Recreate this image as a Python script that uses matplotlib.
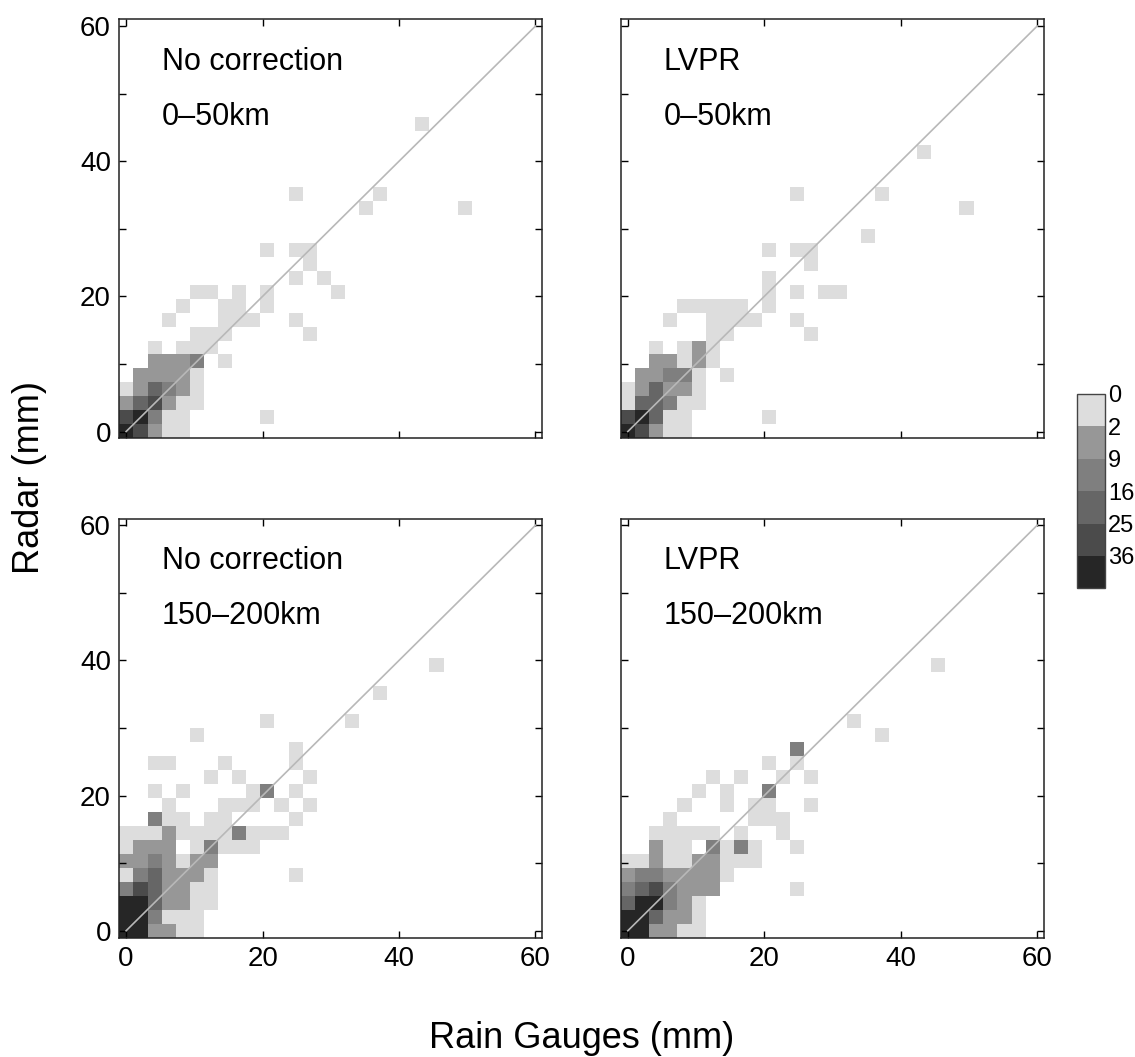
import matplotlib
matplotlib.use('Agg')
import matplotlib.pyplot as plt
import numpy as np
from matplotlib.colors import ListedColormap, BoundaryNorm

plt.rcParams['font.family'] = ['Liberation Sans', 'DejaVu Sans']

# 30x30 bins over -1..61 mm; each digit is the colour class of one bin
# (0 = empty, 1..6 = the colorbar classes), rows listed from top to bottom
grid_nocorr_near = [
    "0000000000000000000001000",  # row 22
    "0000000000000000000000000",
    "0000000000000000000000000",
    "0000000000000000000000000",
    "0000000000000000000000000",
    "0000000000001000001000000",
    "0000000000000000010000001",
    "0000000000000000000000000",
    "0000000000000000000000000",
    "0000000000101100000000000",
    "0000000000000100000000000",
    "0000000000001010000000000",
    "0000011010100001000000000",
    "0000100110100000000000000",
    "0001000111001000000000000",
    "0000011100000100000000000",
    "0010111000000000000000000",
    "0022230100000000000000000",
    "0222210000000000000000000",
    "1243210000000000000000000",
    "2452110000000000000000000",
    "5631100000100000000000000",
    "6521100000000000000000000",  # row 0
]

grid_lvpr_near = [
    "0000000000000000000000000",  # row 22
    "0000000000000000000000000",
    "0000000000000000000001000",
    "0000000000000000000000000",
    "0000000000000000000000000",
    "0000000000001000001000000",
    "0000000000000000000000001",
    "0000000000000000000000000",
    "0000000000000000010000000",
    "0000000000101100000000000",
    "0000000000000100000000000",
    "0000000000100000000000000",
    "0000000000101011000000000",
    "0000111110100000000000000",
    "0001001111001000000000000",
    "0000001100000100000000000",
    "0010121000000000000000000",
    "0022121000000000000000000",
    "0223310100000000000000000",
    "1242210000000000000000000",
    "1443110000000000000000000",
    "5641100000100000000000000",
    "6521100000000000000000000",  # row 0
]

grid_nocorr_far = [
    "0000000000000000000000000",  # row 22
    "0000000000000000000000000",
    "0000000000000000000000000",
    "0000000000000000000000100",
    "0000000000000000000000000",
    "0000000000000000001000000",
    "0000000000000000000000000",
    "0000000000100000100000000",
    "0000010000000000000000000",
    "0000000000001000000000000",
    "0011000100001000000000000",
    "0000001010000100000000000",
    "0010100001301000000000000",
    "0001000111010100000000000",
    "0031101100001000000000000",
    "1112111131110000000000000",
    "1222013111000000000000000",
    "2232122000000000000000000",
    "1342221000001000000000000",
    "3542211000000000000000000",
    "6642211000000000000000000",
    "6631110000000000000000000",
    "6622110000000000000000000",  # row 0
]

grid_lvpr_far = [
    "0000000000000000000000000",  # row 22
    "0000000000000000000000000",
    "0000000000000000000000000",
    "0000000000000000000000100",
    "0000000000000000000000000",
    "0000000000000000000000000",
    "0000000000000000000000000",
    "0000000000000000100000000",
    "0000000000000000001000000",
    "0000000000003000000000000",
    "0000000000101000000000000",
    "0000001010010100000000000",
    "0000010100300000000000000",
    "0000100101100100000000000",
    "0001000001110000000000000",
    "0011111010010000000000000",
    "0021103131001000000000000",
    "1121122111000000000000000",
    "2332222100000000000000000",
    "3453222000001000000000000",
    "4663210000000000000000000",
    "6642210000000000000000000",
    "6622110000000000000000000",  # row 0
]

# typical count for each colour class
class_counts = [0, 1, 5, 12, 20, 30, 45]
count_bounds = [0, 2, 9, 16, 25, 36, 100]
count_labels = ['0', '2', '9', '16', '25', '36']
gray_levels = ['#dddddd', '#979797', '#7f7f7f', '#666666', '#4b4b4b', '#262626']

panel_titles = ['No correction', 'LVPR', 'No correction', 'LVPR']
panel_ranges = ['0–50km', '0–50km', '150–200km', '150–200km']
panel_grids = [grid_nocorr_near, grid_lvpr_near, grid_nocorr_far, grid_lvpr_far]

n_bins = 30
edges = np.linspace(-1, 61, n_bins + 1)


def grid_to_counts(rows):
    counts = np.zeros((n_bins, n_bins))
    for k, row in enumerate(rows[::-1]):
        for i, ch in enumerate(row):
            counts[k, i] = class_counts[int(ch)]
    return np.ma.masked_equal(counts, 0)


W, H = 1135, 1057
fig = plt.figure(figsize=(W / 100, H / 100), dpi=100)

cmap = ListedColormap(gray_levels)
norm = BoundaryNorm(count_bounds, cmap.N)

boxes = [(119.3, 19.3), (621, 19.3), (119.3, 518.5), (621, 518.5)]
aw, ah = 423, 419

mesh = None
for n, (px, py) in enumerate(boxes):
    ax = fig.add_axes([px / W, 1 - (py + ah) / H, aw / W, ah / H])
    mesh = ax.pcolormesh(edges, edges, grid_to_counts(panel_grids[n]),
                         cmap=cmap, norm=norm)
    ax.plot([0, 60], [0, 60], color='#b8b8b8', lw=1.2)
    ax.set_xlim(-1, 61)
    ax.set_ylim(-1, 61)
    ax.set_xticks([0, 20, 40, 60])
    ax.set_yticks([0, 20, 40, 60])
    ax.set_yticks([10, 30, 50], minor=True)
    ax.tick_params(which='both', direction='in', top=True, right=True,
                   length=5, width=1, labelsize=20, pad=6)
    if n < 2:
        ax.tick_params(labelbottom=False)
    if n % 2 == 1:
        ax.tick_params(labelleft=False)
    for s in ax.spines.values():
        s.set_linewidth(1.1)
        s.set_color('#222222')
    ax.text(0.1, 0.879, panel_titles[n], transform=ax.transAxes,
            fontsize=22, va='baseline', ha='left')
    ax.text(0.1, 0.748, panel_ranges[n], transform=ax.transAxes,
            fontsize=22, va='baseline', ha='left')

cax = fig.add_axes([1077 / W, 1 - 588.3 / H, 28 / W, 194.3 / H])
cb = fig.colorbar(mesh, cax=cax, boundaries=count_bounds, ticks=count_bounds[:-1],
                  spacing='uniform', drawedges=True)
cb.ax.invert_yaxis()
cb.set_ticklabels(count_labels)
cb.ax.minorticks_off()
cb.ax.tick_params(length=0, labelsize=17, pad=2)
cb.outline.set_edgecolor('#444444')
cb.outline.set_linewidth(1)
cb.dividers.set_color('#444444')
cb.dividers.set_linewidth(1)

fig.text(30 / W, 1 - 478 / H, 'Radar (mm)', rotation=90, fontsize=26,
         ha='center', va='center')
fig.text(582 / W, 1 - 1038 / H, 'Rain Gauges (mm)', fontsize=26,
         ha='center', va='center')

fig.savefig('out.png', dpi=100)
